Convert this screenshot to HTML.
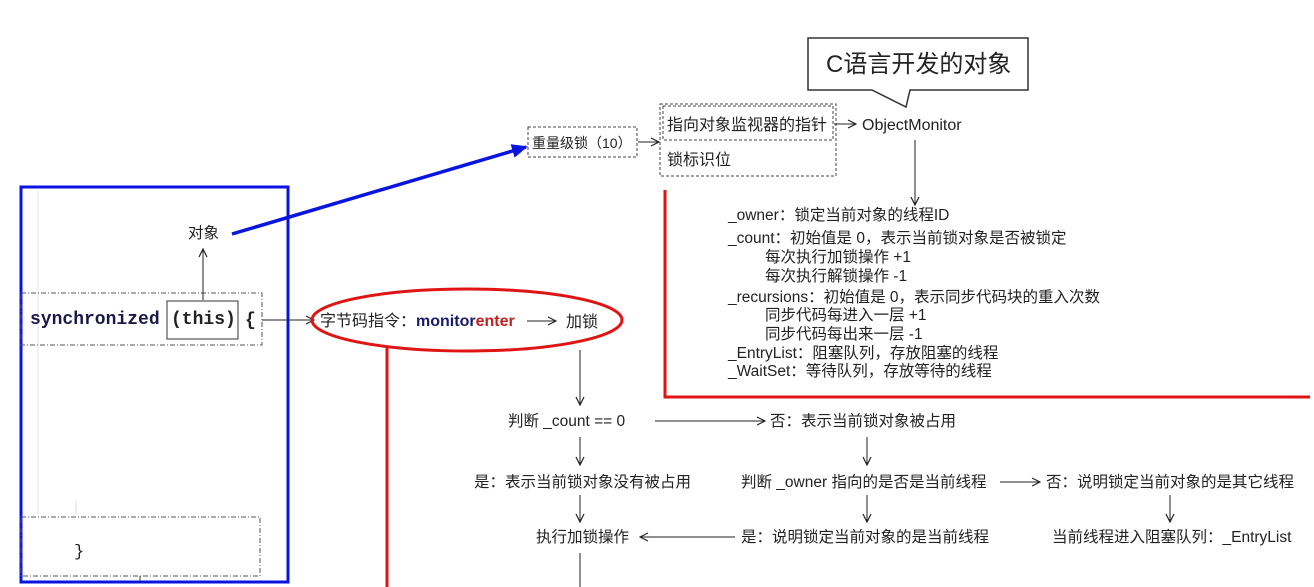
<!DOCTYPE html>
<html><head><meta charset="utf-8"><style>
html,body{margin:0;padding:0;background:#fff;}
svg{display:block;font-family:"Liberation Sans","Noto Sans CJK SC",sans-serif;}
text{font-size:15.5px;fill:#222;}
</style></head><body>
<svg width="1314" height="587" viewBox="0 0 1314 587" xmlns="http://www.w3.org/2000/svg">
<defs>
<marker id="a" markerWidth="10" markerHeight="10" refX="9" refY="5" orient="auto" markerUnits="userSpaceOnUse"><path d="M1,1 L9,5 L1,9" fill="none" stroke="#222" stroke-width="1.2"/></marker>
<marker id="b" markerWidth="16" markerHeight="14" refX="14" refY="7" orient="auto" markerUnits="userSpaceOnUse"><path d="M0,0 L16,7 L0,14 Z" fill="#0a14e0"/></marker>
</defs>
<line x1="38" y1="190" x2="38" y2="515" stroke="#e6e6e6"/>
<line x1="76" y1="500" x2="76" y2="515" stroke="#ddd"/>
<rect x="21" y="187" width="267" height="395" fill="none" stroke="#0a14e0" stroke-width="3"/>
<rect x="21" y="293" width="241" height="52" fill="none" stroke="#555" stroke-dasharray="5,2,1,2"/>
<rect x="167" y="301" width="71" height="38" fill="#fff" stroke="#333"/>
<text x="30" y="324" style="font-family:'Liberation Mono',monospace;font-weight:bold;font-size:18px;fill:#1a1a4a">synchronized</text>
<text x="171" y="324" style="font-family:'Liberation Mono',monospace;font-weight:bold;font-size:18px;fill:#222">(this)</text>
<text x="245" y="325" style="font-family:'Liberation Mono',monospace;font-weight:bold;font-size:18px;fill:#222">{</text>
<rect x="21" y="517" width="239" height="59" fill="none" stroke="#555" stroke-dasharray="5,2,1,2"/>
<text x="74" y="556" style="font-family:'Liberation Mono',monospace;font-size:17px">}</text>
<line x1="140" y1="576" x2="140" y2="582" stroke="#333"/>
<line x1="203" y1="300" x2="203" y2="249" stroke="#222" marker-end="url(#a)"/>
<text x="188" y="238">对象</text>
<line x1="232" y1="234" x2="526" y2="147" stroke="#0a14e0" stroke-width="3.5" marker-end="url(#b)"/>
<line x1="262" y1="320" x2="314" y2="320" stroke="#222" marker-end="url(#a)"/>
<ellipse cx="467" cy="320" rx="155" ry="31" fill="none" stroke="#e01414" stroke-width="3"/>
<text x="320" y="326" style="font-size:16px">字节码指令：<tspan style="font-weight:bold;fill:#1a1a6a">monitor</tspan><tspan style="font-weight:bold;fill:#c02020">enter</tspan></text>
<line x1="527" y1="321" x2="556" y2="321" stroke="#222" marker-end="url(#a)"/>
<text x="566" y="327" style="font-size:16px">加锁</text>
<line x1="387" y1="346" x2="387" y2="587" stroke="#e01414" stroke-width="3"/>
<rect x="528" y="127" width="109" height="30" fill="none" stroke="#444" stroke-dasharray="3,2"/>
<text x="532" y="148" style="font-size:14px">重量级锁（10）</text>
<line x1="638" y1="142" x2="659" y2="142" stroke="#222" marker-end="url(#a)"/>
<rect x="660" y="104" width="176" height="72" fill="none" stroke="#444" stroke-dasharray="3,2"/>
<rect x="663" y="106" width="170" height="34" fill="none" stroke="#444" stroke-dasharray="3,2"/>
<text x="667" y="130" style="font-size:16px">指向对象监视器的指针</text>
<text x="667" y="165" style="font-size:16px">锁标识位</text>
<line x1="834" y1="124" x2="856" y2="124" stroke="#222" marker-end="url(#a)"/>
<text x="862" y="130" style="font-size:16px">ObjectMonitor</text>
<path d="M808,38 H1028 V90 H910 L906,107 L872,90 H808 Z" fill="#fff" stroke="#333" stroke-width="1.5"/>
<text x="826" y="72" style="font-size:24px">C语言开发的对象</text>
<line x1="915" y1="140" x2="915" y2="205" stroke="#222" marker-end="url(#a)"/>
<text x="728" y="220">_owner：锁定当前对象的线程ID</text>
<text x="728" y="243">_count：初始值是 0，表示当前锁对象是否被锁定</text>
<text x="765" y="262">每次执行加锁操作 +1</text>
<text x="765" y="281">每次执行解锁操作 -1</text>
<text x="728" y="302">_recursions：初始值是 0，表示同步代码块的重入次数</text>
<text x="765" y="320">同步代码每进入一层 +1</text>
<text x="765" y="339">同步代码每出来一层 -1</text>
<text x="728" y="358">_EntryList：阻塞队列，存放阻塞的线程</text>
<text x="728" y="376">_WaitSet：等待队列，存放等待的线程</text>
<path d="M665,190 V397 H1310" fill="none" stroke="#e01414" stroke-width="3"/>
<line x1="580" y1="350" x2="580" y2="405" stroke="#222" marker-end="url(#a)"/>
<text x="508" y="426">判断 _count == 0</text>
<line x1="655" y1="421" x2="765" y2="421" stroke="#222" marker-end="url(#a)"/>
<text x="770" y="426">否：表示当前锁对象被占用</text>
<line x1="580" y1="437" x2="580" y2="465" stroke="#222" marker-end="url(#a)"/>
<line x1="867" y1="437" x2="867" y2="465" stroke="#222" marker-end="url(#a)"/>
<text x="474" y="487">是：表示当前锁对象没有被占用</text>
<text x="741" y="487">判断 _owner 指向的是否是当前线程</text>
<line x1="1000" y1="482" x2="1040" y2="482" stroke="#222" marker-end="url(#a)"/>
<text x="1046" y="487">否：说明锁定当前对象的是其它线程</text>
<line x1="580" y1="495" x2="580" y2="522" stroke="#222" marker-end="url(#a)"/>
<line x1="867" y1="495" x2="867" y2="522" stroke="#222" marker-end="url(#a)"/>
<line x1="1170" y1="495" x2="1170" y2="522" stroke="#222" marker-end="url(#a)"/>
<text x="536" y="542">执行加锁操作</text>
<line x1="735" y1="537" x2="640" y2="537" stroke="#222" marker-end="url(#a)"/>
<text x="741" y="542">是：说明锁定当前对象的是当前线程</text>
<text x="1052" y="542">当前线程进入阻塞队列：_EntryList</text>
<line x1="580" y1="553" x2="580" y2="587" stroke="#222"/>
</svg>
</body></html>
